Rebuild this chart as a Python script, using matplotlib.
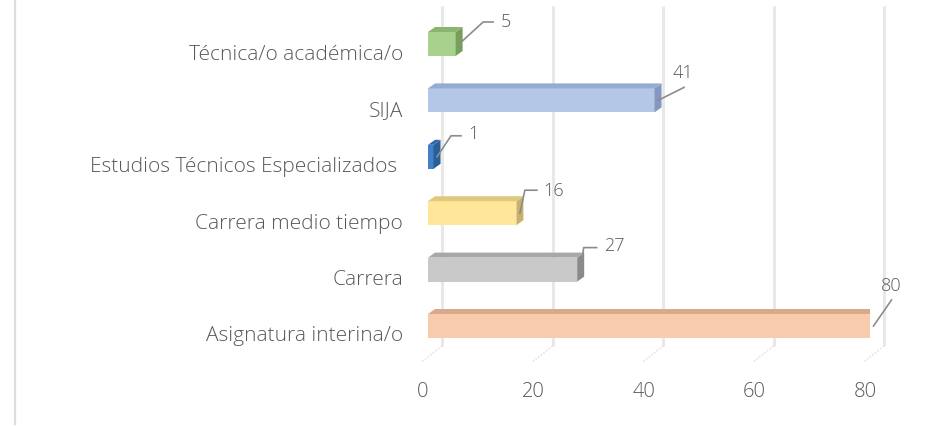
import matplotlib
matplotlib.use("Agg")
import matplotlib.pyplot as plt
from matplotlib.patches import Polygon
from matplotlib.transforms import ScaledTranslation, IdentityTransform
from matplotlib.lines import Line2D

# ---- data ----
categories = ["Asignatura interina/o", "Carrera", "Carrera medio tiempo",
              "Estudios Técnicos Especializados ", "SIJA", "Técnica/o académica/o"]
values = [80, 27, 16, 1, 41, 5]
front_colors = ["#F8CBAD", "#C9C9C9", "#FFE699", "#3F80C8", "#B4C7E7", "#A9D18E"]
side_colors = ["#C49478", "#8A8A8A", "#C8B26A", "#2A5E99", "#8298BE", "#76A05A"]
top_colors = ["#D8AA8C", "#A8A8A8", "#E0C97E", "#3468A8", "#95ABD0", "#8BB56E"]
xticks = [0, 20, 40, 60, 80]

# leader-line pixel offsets: (elbow dx, elbow dy, horizontal length, label dx, label dy)
leaders = [(18, 26, 0, 0, 15), (3, 22, 13, 18, 3), (5, 23, 12, 17, 0),
           (14, 21, 10, 12, 3), (26, 13, 0, -1, 15), (24, 22, 10, 13, 1)]

plt.rcParams['font.family'] = ['Open Sans', 'DejaVu Sans']
plt.rcParams['font.weight'] = 300
W, H = 931, 427
fig = plt.figure(figsize=(W / 100, H / 100), dpi=100)

# axes: x 0..80 -> px 428..870 ; y -0.5..5.5 -> px 362.2..23.8 (top-origin)
left_px, right_px = 428, 870
bot_px, top_px = 362.2, 23.8
ax = fig.add_axes([left_px / W, 1 - bot_px / H, (right_px - left_px) / W, (bot_px - top_px) / H])
ax.set_xlim(0, 80)
ax.set_ylim(-0.5, 5.5)
for s in ax.spines.values():
    s.set_visible(False)

pxu = (right_px - left_px) / 80.0
pyu = (bot_px - top_px) / 6.0
depth_x = 7 / pxu
depth_y = 5 / pyu
grid_dx = 14 / pxu

# back gridlines + floor lines
for t in xticks:
    ax.plot([t + grid_dx, t + grid_dx], [-0.23, 5.8], color="#E8E8E8", lw=2.2,
            clip_on=False, zorder=0, solid_capstyle="butt")
    ax.plot([t + grid_dx, t - 1.1], [-0.23, -0.51], color="#E4E4E4", lw=1.2,
            ls=(0, (1, 1)), clip_on=False, zorder=0)

ypos = list(range(len(categories)))
bar_off = 7 / pyu
bar_h = 24 / pyu
bars = ax.barh([y + bar_off for y in ypos], values, height=bar_h, color=front_colors,
               edgecolor="none", zorder=3)

for i, b in enumerate(bars):
    x0 = b.get_x()
    v = b.get_width()
    y0 = b.get_y()
    y1 = y0 + b.get_height()
    side = Polygon([(v, y0), (v + depth_x, y0 + depth_y), (v + depth_x, y1 + depth_y), (v, y1)],
                   closed=True, facecolor=side_colors[i], edgecolor="none", zorder=3)
    top = Polygon([(x0, y1), (v, y1), (v + depth_x, y1 + depth_y), (x0 + depth_x, y1 + depth_y)],
                  closed=True, facecolor=top_colors[i], edgecolor="none", zorder=3)
    ax.add_patch(side)
    ax.add_patch(top)

fig.canvas.draw()
# value labels with leader lines (pixel-space)
for i, b in enumerate(bars):
    v = b.get_width()
    yc = b.get_y() + b.get_height() / 2
    sx, sy = ax.transData.transform((v + depth_x * 0.5, yc))
    ex, ey, hl, lx, ly = leaders[i]
    pts_x = [sx, sx + ex, sx + ex + hl]
    pts_y = [sy, sy + ey, sy + ey]
    fig.add_artist(Line2D(pts_x, pts_y, transform=IdentityTransform(), color="#8C8C8C", lw=1.2))
    fig.text(sx + ex + hl + lx, sy + ey + ly, str(values[i]), transform=IdentityTransform(),
             ha="center", va="center", fontsize=13, color="#595959", fontweight=300)

ax.set_yticks(ypos)
ax.set_yticklabels(categories, fontsize=15, color="#595959", fontweight=300)
ax.set_xticks(xticks)
ax.set_xticklabels([str(t) for t in xticks], fontsize=14.5, color="#595959", fontweight=300)
ax.tick_params(axis="y", length=0, pad=18)
ax.tick_params(axis="x", length=0, pad=14)
shift = ScaledTranslation(-5 / 100, 0, fig.dpi_scale_trans)
for lab in ax.get_xticklabels():
    lab.set_transform(lab.get_transform() + shift)

# left border line
fig.add_artist(Line2D([15, 15], [2, 427], transform=IdentityTransform(), color="#DCDCDC", lw=1.6))

fig.savefig("out.png", dpi=100)
